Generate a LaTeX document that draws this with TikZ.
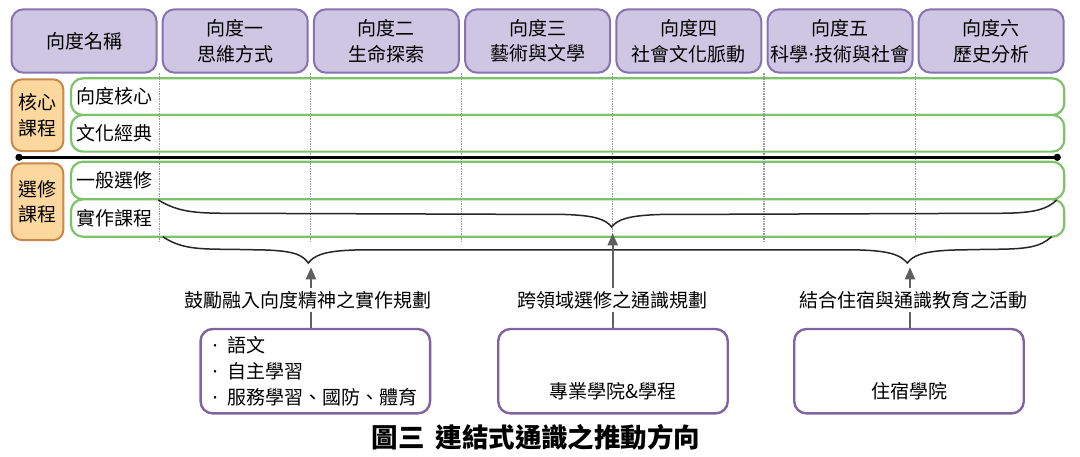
\documentclass[tikz,border=0pt]{standalone}
\usepackage{fontspec}
\setmainfont{Noto Sans CJK TC}
\newfontfamily\latinfont{Noto Sans}
\newcommand{\narrowdot}{{\latinfont ·}}
\usetikzlibrary{arrows.meta}
\definecolor{hdrfill}{RGB}{206,198,226}
\definecolor{hdrdraw}{RGB}{135,115,175}
\definecolor{grn}{RGB}{125,195,105}
\definecolor{orfill}{RGB}{252,216,158}
\definecolor{ordraw}{RGB}{200,135,75}
\definecolor{purp}{RGB}{128,100,162}
\definecolor{arrgray}{RGB}{95,95,95}
\definecolor{dotgray}{RGB}{150,150,150}
\begin{document}
\begin{tikzpicture}[x=1pt,y=-1pt,
  txt/.style={font=\fontsize{19}{25.7}\selectfont, inner sep=0pt, text height=16.8pt, text depth=2.2pt},
  lbl/.style={txt, inner ysep=2.5pt},
  listtxt/.style={font=\fontsize{19}{25.8}\selectfont, inner sep=0pt, align=left},
  hdr/.style={draw=hdrdraw, line width=2pt, fill=hdrfill, rounded corners=12pt, minimum width=145pt, minimum height=63.4pt, inner sep=0pt, align=center, font=\fontsize{19}{25.7}\selectfont},
  rowbox/.style={draw=grn, line width=2.2pt, fill=white, rounded corners=12pt, minimum width=993.3pt, inner sep=0pt},
  catbox/.style={draw=ordraw, line width=2pt, fill=orfill, rounded corners=10pt, minimum width=51.6pt, inner sep=0pt, align=center, font=\fontsize{19}{25.5}\selectfont},
  srcbox/.style={draw=purp, line width=2.4pt, fill=white, rounded corners=12pt, minimum width=229.5pt, minimum height=84.3pt, inner sep=0pt},
  divline/.style={draw=dotgray, line width=1.1pt, dash pattern=on 1.1pt off 1.4pt},
  brace/.style={draw=black!85, line width=1.5pt},
  upar/.style={draw=arrgray, line width=2pt, -{Triangle[length=12pt,width=10pt]}},
  upln/.style={draw=arrgray, line width=2pt}
]
\useasboundingbox (0,0) rectangle (1080,457);

% header
\node[hdr] (h0) at (84,41) {向度名稱};
\node[hdr] (h1) at (235.2,41) {向度一\\思維方式};
\node[hdr] (h2) at (386.4,41) {向度二\\生命探索};
\node[hdr] (h3) at (537.6,41) {向度三\\藝術與文學};
\node[hdr] (h4) at (688.8,41) {向度四\\社會文化脈動};
\node[hdr] (h5) at (840,41) {向度五\\科學\narrowdot 技術與社會};
\node[hdr] (h6) at (991.2,41) {向度六\\歷史分析};

% rows
\node[rowbox, minimum height=36.7pt] (r1) at (567.65,96.7) {};
\node[rowbox, minimum height=36.7pt] (r2) at (567.65,133.3) {};
\node[rowbox, minimum height=37.6pt] (r3) at (567.65,180.5) {};
\node[rowbox, minimum height=37.4pt] (r4) at (567.65,218) {};
\node[txt, anchor=west] (l1) at ([xshift=6pt]r1.west) {向度核心};
\node[txt, anchor=west] (l2) at ([xshift=6pt]r2.west) {文化經典};
\node[txt, anchor=west] (l3) at ([xshift=6pt]r3.west) {一般選修};
\node[txt, anchor=west] (l4) at ([xshift=6pt]r4.west) {實作課程};

% category boxes
\node[catbox, minimum height=71.7pt] (c1) at (37.5,115.2) {核心\\課程};
\node[catbox, minimum height=76.7pt] (c2) at (37.5,201.7) {選修\\課程};

% dotted dividers
\foreach \x in {159.2,310.4,461.6,612.8,764,915.2}
  \draw[divline] (\x,73.5) -- (\x,242);

% black divider
\coordinate (bl) at (19,157.3);
\coordinate (br) at (1057.3,157.3);
\draw[line width=2.5pt] (bl) -- (br);
\fill (bl) circle (3.6pt);
\fill (br) circle (3.6pt);

% braces
\draw[brace] (158.3,200) .. controls (178,212) and (195,213.3) .. (230,213.3)
  -- (565,214.5) .. controls (597,215.5) and (606,220) .. (611.7,227)
  .. controls (617,220) and (627,215.5) .. (660,214.5)
  -- (995,213.3) .. controls (1030,213.3) and (1045,211) .. (1056.7,200);
\draw[brace] (162.7,236.7) .. controls (180,248) and (195,249.3) .. (230,249.3)
  -- (265,250) .. controls (297,251) and (303,256) .. (308.3,263)
  .. controls (314,256) and (322,251) .. (355,250)
  -- (860,250) .. controls (893,251) and (901,256) .. (907.3,263)
  .. controls (913,256) and (921,251) .. (955,250)
  -- (990,249.3) .. controls (1028,249.3) and (1040,247) .. (1051.7,236.7);

\coordinate (t1) at (311,267.3);
\coordinate (t2) at (612.7,233.3);
\coordinate (t3) at (910,267.3);

% bottom source boxes
\node[srcbox] (s1) at (315.3,371.2) {};
\node[srcbox] (s2) at (613,371.2) {};
\node[srcbox] (s3) at (909,371.2) {};
\node[listtxt, anchor=west] (b1) at (212.5,371.2) {\narrowdot\enspace 語文\\\narrowdot\enspace 自主學習\\\narrowdot\enspace 服務學習、國防、體育};
\node[txt] (b2) at (613,391.7) {專業學院\&學程};
\node[txt] (b3) at (909,391.7) {住宿學院};

% arrow labels
\node[lbl] (a1) at (308,300) {鼓勵融入向度精神之實作規劃};
\node[lbl] (a2) at (612.3,300) {跨領域選修之通識規劃};
\node[lbl] (a3) at (913,300) {結合住宿與通識教育之活動};

% arrows
\draw[upln] (s1.north -| t1) -- (a1.south -| t1);
\draw[upar] (a1.north -| t1) -- (t1);
\draw[upln] (s2.north -| t2) -- (a2.south -| t2);
\draw[upar] (a2.north -| t2) -- (t2);
\draw[upln] (s3.north -| t3) -- (a3.south -| t3);
\draw[upar] (a3.north -| t3) -- (t3);

% caption
\node[font=\fontsize{26.5}{30}\selectfont\bfseries, inner sep=0pt, text height=23.3pt, text depth=3.2pt] (cap) at (536,437) {圖三\hspace{11pt}連結式通識之推動方向};
\end{tikzpicture}
\end{document}
